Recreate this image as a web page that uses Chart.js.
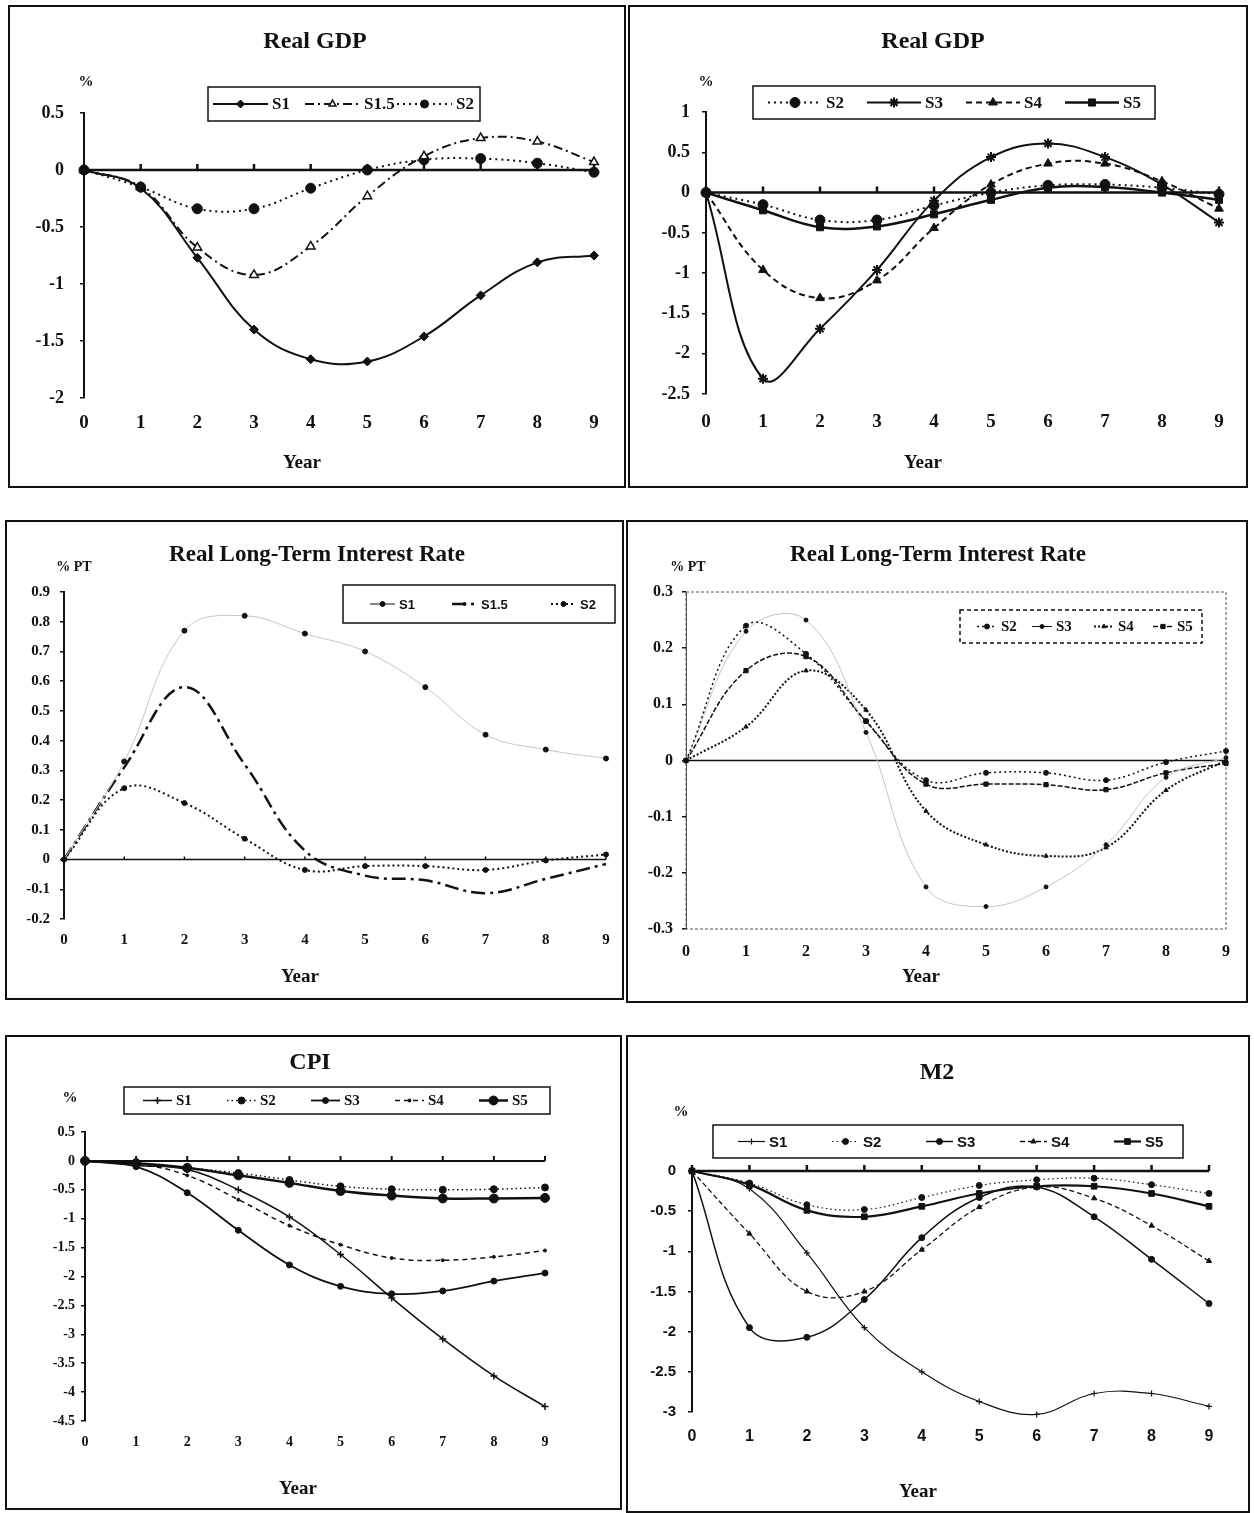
<!DOCTYPE html>
<html>
<head>
<meta charset="utf-8">
<script src="https://cdn.jsdelivr.net/npm/chart.js@4.4.1/dist/chart.umd.min.js"></script>
<style>
  body { margin: 0; background: #fff; width: 1254px; height: 1513px; position: relative; overflow: hidden; }
  canvas { position: absolute; }
</style>
</head>
<body>
<canvas id="gdpA"></canvas>
<canvas id="gdpB"></canvas>
<canvas id="rateA"></canvas>
<canvas id="rateB"></canvas>
<canvas id="cpi"></canvas>
<canvas id="m2"></canvas>
<script>
// ---- data ----
const years = ['0', '1', '2', '3', '4', '5', '6', '7', '8', '9'];

const gdpTicksA = [0.5, 0, -0.5, -1, -1.5, -2];
const gdpTicksB = [1, 0.5, 0, -0.5, -1, -1.5, -2, -2.5];
const rateTicksA = [0.9, 0.8, 0.7, 0.6, 0.5, 0.4, 0.3, 0.2, 0.1, 0, -0.1, -0.2];
const rateTicksB = [0.3, 0.2, 0.1, 0, -0.1, -0.2, -0.3];
const cpiTicks = [0.5, 0, -0.5, -1, -1.5, -2, -2.5, -3, -3.5, -4, -4.5];
const m2Ticks = [0, -0.5, -1, -1.5, -2, -2.5, -3];

// Real GDP (%)
const gdpS1  = [0, -0.16, -0.77, -1.40, -1.66, -1.68, -1.46, -1.10, -0.81, -0.75];
const gdpS15 = [0, -0.15, -0.68, -0.92, -0.67, -0.23, 0.12, 0.28, 0.25, 0.07];
const gdpS2  = [0, -0.15, -0.34, -0.34, -0.16, 0.0, 0.09, 0.10, 0.06, -0.02];
const gdpS3  = [0, -2.31, -1.69, -0.96, -0.10, 0.44, 0.61, 0.44, 0.10, -0.37];
const gdpS4  = [0, -0.96, -1.31, -1.09, -0.44, 0.10, 0.36, 0.36, 0.14, -0.20];
const gdpS5  = [0, -0.22, -0.43, -0.42, -0.27, -0.09, 0.06, 0.07, 0.0, -0.09];

// Real long-term interest rate (% pt)
const rateS1  = [0, 0.33, 0.77, 0.82, 0.76, 0.70, 0.58, 0.42, 0.37, 0.34];
const rateS15 = [0, 0.31, 0.58, 0.32, 0.03, -0.054, -0.07, -0.113, -0.065, -0.015];
const rateS2  = [0, 0.24, 0.19, 0.07, -0.035, -0.022, -0.022, -0.035, -0.003, 0.017];
const rateS3  = [0, 0.23, 0.25, 0.05, -0.225, -0.26, -0.225, -0.15, -0.03, 0.005];
const rateS4  = [0, 0.06, 0.16, 0.09, -0.09, -0.15, -0.17, -0.155, -0.053, 0.0];
const rateS5  = [0, 0.16, 0.185, 0.07, -0.042, -0.042, -0.043, -0.052, -0.022, -0.005];

// CPI (%)
const cpiS1 = [0, -0.08, -0.15, -0.50, -0.97, -1.62, -2.37, -3.08, -3.72, -4.25];
const cpiS2 = [0, -0.04, -0.12, -0.21, -0.33, -0.44, -0.49, -0.50, -0.49, -0.46];
const cpiS3 = [0, -0.10, -0.55, -1.20, -1.80, -2.17, -2.30, -2.25, -2.08, -1.94];
const cpiS4 = [0, -0.05, -0.25, -0.67, -1.12, -1.45, -1.68, -1.72, -1.66, -1.55];
const cpiS5 = [0, -0.04, -0.12, -0.25, -0.38, -0.52, -0.60, -0.65, -0.65, -0.64];

// M2 (%)
const m2S1 = [0, -0.22, -1.02, -1.95, -2.50, -2.87, -3.03, -2.77, -2.77, -2.93];
const m2S2 = [0, -0.15, -0.42, -0.48, -0.33, -0.18, -0.11, -0.09, -0.17, -0.28];
const m2S3 = [0, -1.95, -2.07, -1.60, -0.83, -0.33, -0.20, -0.57, -1.10, -1.65];
const m2S4 = [0, -0.78, -1.50, -1.50, -0.98, -0.45, -0.20, -0.34, -0.68, -1.12];
const m2S5 = [0, -0.17, -0.49, -0.57, -0.44, -0.28, -0.19, -0.19, -0.28, -0.44];

// ---- styling helpers ----
const SERIF = '"Liberation Serif", "Times New Roman", serif';
const SANS = '"Liberation Sans", Arial, sans-serif';
const INK = '#111';
const FAINT = '#c4c4c4';

function serif(size) { return { family: SERIF, size: size, weight: 'bold' }; }
function sans(size) { return { family: SANS, size: size, weight: 'bold' }; }

function series(label, data, style) {
  return Object.assign({
    label: label,
    data: data,
    borderColor: INK,
    backgroundColor: INK,
    pointBorderColor: INK,
    pointBackgroundColor: INK,
    borderWidth: 2,
    pointRadius: 4,
    pointHoverRadius: 4,
    pointBorderWidth: 1,
    tension: 0.4,
    clip: false
  }, style);
}

// zero line, panel frame, legend box and free texts
const decor = {
  id: 'decor',
  beforeDatasetsDraw(chart, args, o) {
    const ctx = chart.ctx, a = chart.chartArea, x = chart.scales.x, y = chart.scales.y;
    ctx.save();
    if (o.frame) {
      ctx.strokeStyle = '#555';
      ctx.lineWidth = 1;
      ctx.setLineDash([3, 2]);
      ctx.strokeRect(a.left, a.top, a.right - a.left, a.bottom - a.top);
      ctx.setLineDash([]);
    }
    const y0 = y.getPixelForValue(0);
    ctx.strokeStyle = INK;
    ctx.lineWidth = o.zeroWidth;
    ctx.beginPath();
    ctx.moveTo(a.left, y0);
    ctx.lineTo(a.right, y0);
    if (o.zeroTick) {
      years.forEach((v, i) => {
        const px = x.getPixelForTick(i);
        ctx.moveTo(px, y0);
        ctx.lineTo(px, y0 - o.zeroTick);
      });
    }
    ctx.stroke();
    ctx.restore();
  },
  afterDraw(chart, args, o) {
    const ctx = chart.ctx, b = o.box;
    ctx.save();
    // panel frame
    ctx.strokeStyle = INK;
    ctx.lineWidth = 2;
    ctx.strokeRect(1, 1, b.w - 2, b.h - 2);

    // texts
    ctx.fillStyle = INK;
    ctx.textAlign = 'center';
    ctx.textBaseline = 'middle';
    o.texts.forEach(t => {
      ctx.font = 'bold ' + t.size + 'px ' + (t.family || SERIF);
      ctx.fillText(t.t, t.x - b.x, t.y - b.y);
    });

    // legend
    const lg = o.legend;
    ctx.lineWidth = 1.5;
    ctx.setLineDash(lg.dashed ? [4, 3] : []);
    ctx.strokeRect(lg.x - b.x, lg.y - b.y, lg.w, lg.h);
    const yc = lg.y - b.y + lg.h / 2;
    chart.data.datasets.forEach((ds, i) => {
      const x0 = (lg.at ? lg.at[i] : lg.first + i * lg.step) - b.x;
      ctx.strokeStyle = ds.legendColor || ds.borderColor;
      ctx.lineWidth = ds.borderWidth;
      ctx.setLineDash(ds.borderDash || []);
      ctx.beginPath();
      ctx.moveTo(x0, yc);
      ctx.lineTo(x0 + lg.len, yc);
      ctx.stroke();
      ctx.setLineDash([]);
      const r = ds.legendRadius !== undefined ? ds.legendRadius : ds.pointRadius;
      if (r > 0) {
        ctx.fillStyle = ds.pointBackgroundColor;
        ctx.strokeStyle = ds.pointBorderColor;
        ctx.lineWidth = ds.pointBorderWidth;
        Chart.helpers.drawPoint(ctx, { pointStyle: ds.pointStyle || 'circle', radius: r, rotation: 0, borderWidth: ds.pointBorderWidth }, x0 + lg.len / 2, yc);
      }
      ctx.fillStyle = INK;
      ctx.font = 'bold ' + lg.size + 'px ' + lg.family;
      ctx.textAlign = 'left';
      ctx.fillText(ds.label, x0 + lg.len + 4, yc + 1);
    });
    ctx.restore();
  }
};

function panel(id, box, area, cfg) {
  const cv = document.getElementById(id);
  cv.width = box.w;
  cv.height = box.h;
  cv.style.left = box.x + 'px';
  cv.style.top = box.y + 'px';
  const ticksUp = cfg.yTicks.slice().sort((p, q) => p - q);
  return new Chart(cv, {
    type: 'line',
    data: { labels: years, datasets: cfg.datasets },
    options: {
      responsive: false,
      animation: false,
      layout: { autoPadding: false, padding: { left: 0, top: area.top - box.y, right: box.x + box.w - area.right, bottom: 0 } },
      scales: {
        x: {
          type: 'category',
          offset: false,
          grid: { display: false, drawTicks: false },
          border: { display: false },
          ticks: { color: INK, font: cfg.xFont, padding: cfg.xPad, maxRotation: 0, autoSkip: false },
          afterFit: s => { s.height = box.y + box.h - area.bottom; }
        },
        y: {
          min: ticksUp[0],
          max: ticksUp[ticksUp.length - 1],
          afterBuildTicks: s => { s.ticks = ticksUp.map(v => ({ value: v })); },
          grid: { drawOnChartArea: false, drawTicks: true, tickLength: 4, color: INK, lineWidth: 1.5 },
          border: { color: cfg.frame ? '#555' : INK, width: cfg.frame ? 1 : 2, dash: cfg.frame ? [3, 2] : [] },
          ticks: { color: INK, font: cfg.yFont, padding: cfg.yPad, callback: v => String(v) },
          afterFit: s => { s.width = area.left - box.x; }
        }
      },
      plugins: {
        legend: { display: false },
        tooltip: { enabled: false },
        decor: { box: box, frame: cfg.frame, zeroWidth: cfg.zeroWidth, zeroTick: cfg.zeroTick, texts: cfg.texts, legend: cfg.legend }
      }
    },
    plugins: [decor]
  });
}

// ---- Real GDP, S1 / S1.5 / S2 ----
panel('gdpA', { x: 8, y: 5, w: 618, h: 483 }, { left: 84, top: 113, right: 594, bottom: 398 }, {
  yTicks: gdpTicksA, yFont: serif(18), yPad: 16, xFont: serif(19), xPad: 14,
  zeroWidth: 2.5, zeroTick: 6,
  datasets: [
    series('S1', gdpS1, { pointStyle: 'rectRot', pointRadius: 4.5, legendRadius: 4 }),
    series('S1.5', gdpS15, { borderDash: [9, 4, 2, 4], pointStyle: 'triangle', pointRadius: 5, legendRadius: 4, pointBackgroundColor: '#fff', pointBorderWidth: 1.5 }),
    series('S2', gdpS2, { borderDash: [2, 4], pointStyle: 'circle', pointRadius: 5, legendRadius: 4 })
  ],
  legend: { x: 208, y: 87, w: 272, h: 34, first: 213, step: 92, len: 55, size: 17, family: SERIF },
  texts: [
    { t: 'Real GDP', x: 315, y: 42, size: 24 },
    { t: '%', x: 86, y: 82, size: 15 },
    { t: 'Year', x: 302, y: 463, size: 19 }
  ]
});

// ---- Real GDP, S2 .. S5 ----
panel('gdpB', { x: 628, y: 5, w: 620, h: 483 }, { left: 706, top: 112, right: 1219, bottom: 394 }, {
  yTicks: gdpTicksB, yFont: serif(18), yPad: 12, xFont: serif(19), xPad: 17,
  zeroWidth: 2.5, zeroTick: 6,
  datasets: [
    series('S2', gdpS2, { borderDash: [2, 4], pointStyle: 'circle', pointRadius: 5 }),
    series('S3', gdpS3, { pointStyle: 'star', pointRadius: 5, pointBorderWidth: 2 }),
    series('S4', gdpS4, { borderDash: [6, 4], pointStyle: 'triangle', pointRadius: 5 }),
    series('S5', gdpS5, { borderWidth: 2.5, pointStyle: 'rect', pointRadius: 5 })
  ],
  legend: { x: 753, y: 86, w: 402, h: 33, first: 768, step: 99, len: 54, size: 17, family: SERIF },
  texts: [
    { t: 'Real GDP', x: 933, y: 42, size: 24 },
    { t: '%', x: 706, y: 82, size: 15 },
    { t: 'Year', x: 923, y: 463, size: 19 }
  ]
});

// ---- Real long-term interest rate, S1 / S1.5 / S2 ----
panel('rateA', { x: 5, y: 520, w: 619, h: 480 }, { left: 64, top: 592, right: 606, bottom: 919 }, {
  yTicks: rateTicksA, yFont: serif(15), yPad: 10, xFont: serif(15), xPad: 12,
  zeroWidth: 1.5, zeroTick: 3,
  datasets: [
    series('S1', rateS1, { borderColor: FAINT, legendColor: INK, borderWidth: 1, pointStyle: 'circle', pointRadius: 2.5 }),
    series('S1.5', rateS15, { borderDash: [14, 5, 3, 5], borderWidth: 2.5, pointRadius: 0, legendRadius: 1.5 }),
    series('S2', rateS2, { borderDash: [2, 3], pointStyle: 'circle', pointRadius: 2.5 })
  ],
  legend: { x: 343, y: 585, w: 272, h: 38, at: [370, 452, 551], len: 25, size: 13, family: SANS },
  texts: [
    { t: 'Real Long-Term Interest Rate', x: 317, y: 555, size: 23 },
    { t: '% PT', x: 74, y: 567, size: 14 },
    { t: 'Year', x: 300, y: 977, size: 19 }
  ]
});

// ---- Real long-term interest rate, S2 .. S5 ----
panel('rateB', { x: 626, y: 520, w: 622, h: 483 }, { left: 686, top: 592, right: 1226, bottom: 929 }, {
  yTicks: rateTicksB, yFont: serif(16), yPad: 9, xFont: serif(16), xPad: 13,
  zeroWidth: 1.5, zeroTick: 0, frame: true,
  datasets: [
    series('S2', rateS2, { borderDash: [2, 3], borderWidth: 1.5, pointStyle: 'circle', pointRadius: 2.5 }),
    series('S3', rateS3, { borderColor: FAINT, legendColor: INK, borderWidth: 1, pointStyle: 'circle', pointRadius: 2 }),
    series('S4', rateS4, { borderDash: [2, 2], borderWidth: 2, pointStyle: 'triangle', pointRadius: 2.5 }),
    series('S5', rateS5, { borderDash: [5, 2], borderWidth: 1.5, pointStyle: 'rect', pointRadius: 3 })
  ],
  legend: { x: 960, y: 610, w: 242, h: 33, at: [977, 1032, 1094, 1153], len: 20, size: 15, family: SERIF, dashed: true },
  texts: [
    { t: 'Real Long-Term Interest Rate', x: 938, y: 555, size: 23 },
    { t: '% PT', x: 688, y: 567, size: 14 },
    { t: 'Year', x: 921, y: 977, size: 19 }
  ]
});

// ---- CPI ----
panel('cpi', { x: 5, y: 1035, w: 617, h: 475 }, { left: 85, top: 1132, right: 545, bottom: 1421 }, {
  yTicks: cpiTicks, yFont: serif(14), yPad: 6, xFont: serif(14), xPad: 13,
  zeroWidth: 2, zeroTick: 5,
  datasets: [
    series('S1', cpiS1, { borderWidth: 1.5, pointStyle: 'cross', pointRadius: 3.5, pointBorderWidth: 1.5 }),
    series('S2', cpiS2, { borderDash: [1.5, 3], borderWidth: 1.5, pointStyle: 'circle', pointRadius: 3.5 }),
    series('S3', cpiS3, { borderWidth: 1.8, pointStyle: 'circle', pointRadius: 3 }),
    series('S4', cpiS4, { borderDash: [5, 4], borderWidth: 1.5, pointStyle: 'circle', pointRadius: 1.5 }),
    series('S5', cpiS5, { borderWidth: 2.5, pointStyle: 'circle', pointRadius: 4.5 })
  ],
  legend: { x: 124, y: 1087, w: 426, h: 27, first: 143, step: 84, len: 29, size: 15, family: SERIF },
  texts: [
    { t: 'CPI', x: 310, y: 1063, size: 24 },
    { t: '%', x: 70, y: 1098, size: 15 },
    { t: 'Year', x: 298, y: 1489, size: 19 }
  ]
});

// ---- M2 ----
panel('m2', { x: 626, y: 1035, w: 624, h: 478 }, { left: 692, top: 1171, right: 1209, bottom: 1412 }, {
  yTicks: m2Ticks, yFont: sans(15), yPad: 12, xFont: sans(16), xPad: 15,
  zeroWidth: 2.5, zeroTick: 6,
  datasets: [
    series('S1', m2S1, { borderWidth: 1.2, pointStyle: 'cross', pointRadius: 3, pointBorderWidth: 1.2 }),
    series('S2', m2S2, { borderDash: [1.5, 3], borderWidth: 1.2, pointStyle: 'circle', pointRadius: 3 }),
    series('S3', m2S3, { borderWidth: 1.5, pointStyle: 'circle', pointRadius: 3 }),
    series('S4', m2S4, { borderDash: [5, 3], borderWidth: 1.3, pointStyle: 'triangle', pointRadius: 3 }),
    series('S5', m2S5, { borderWidth: 2.2, pointStyle: 'rect', pointRadius: 4 })
  ],
  legend: { x: 713, y: 1125, w: 470, h: 33, first: 738, step: 94, len: 27, size: 15, family: SANS },
  texts: [
    { t: 'M2', x: 937, y: 1073, size: 24 },
    { t: '%', x: 681, y: 1112, size: 15 },
    { t: 'Year', x: 918, y: 1492, size: 19 }
  ]
});
</script>
</body>
</html>
